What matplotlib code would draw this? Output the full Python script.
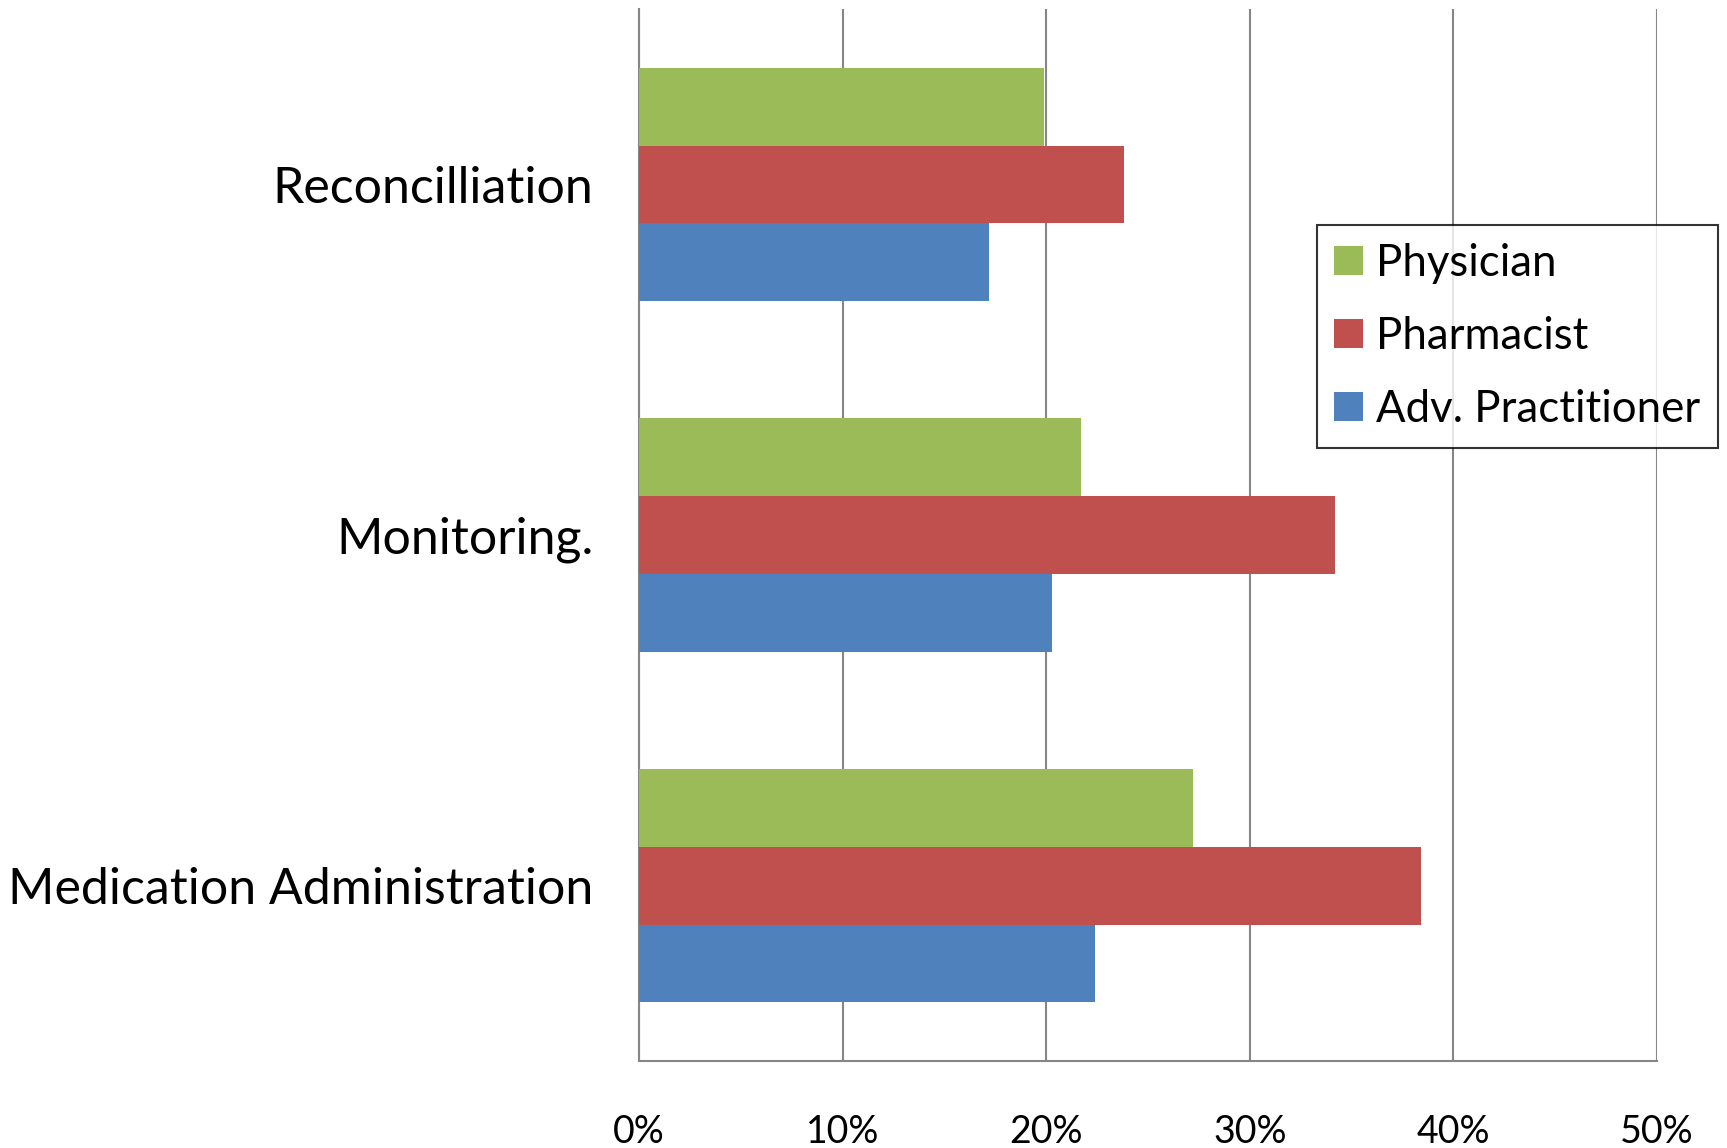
import numpy as np
import matplotlib.pyplot as plt

categories = ['Medication Administration', 'Monitoring.', 'Reconcilliation']
adv_practitioner = [22.4, 20.3, 17.2]
pharmacist = [38.4, 34.2, 23.8]
physician = [27.2, 21.7, 19.9]
x_ticks = [0, 10, 20, 30, 40, 50]
x_tick_labels = ['0%', '10%', '20%', '30%', '40%', '50%']

plt.rcParams['font.family'] = ['Lato', 'DejaVu Sans']

fig = plt.figure(figsize=(17.27, 11.48), dpi=100)
ax = fig.add_axes([0.370, 0.0758, 0.5895, 0.9162])

y = np.arange(len(categories))
h = 0.222
ax.barh(y - h, adv_practitioner, h, color='#4F81BD', label='Adv. Practitioner', zorder=3)
ax.barh(y, pharmacist, h, color='#C0504D', label='Pharmacist', zorder=3)
ax.barh(y + h, physician, h, color='#9BBB59', label='Physician', zorder=3)

ax.set_xlim(0, 50)
ax.set_ylim(-0.5, 2.5)
ax.set_xticks(x_ticks)
ax.set_xticklabels(x_tick_labels, fontsize=27)
ax.set_yticks(y)
ax.set_yticklabels(categories, fontsize=36)
ax.tick_params(axis='x', length=0, pad=38)
ax.tick_params(axis='y', length=0, pad=33)

ax.grid(axis='x', color='#868686', linewidth=1.5, zorder=0)
for s in ['top', 'right']:
    ax.spines[s].set_visible(False)
for s in ['left', 'bottom']:
    ax.spines[s].set_color('#868686')
    ax.spines[s].set_linewidth(1.5)

handles, labels = ax.get_legend_handles_labels()
leg = ax.legend(handles[::-1], labels[::-1], loc='upper right',
                bbox_to_anchor=(0.9945, 0.804), bbox_transform=fig.transFigure,
                fontsize=31.5, frameon=True, fancybox=False, edgecolor='black',
                handlelength=0.65, handleheight=0.65, handletextpad=0.3,
                labelspacing=0.74, borderpad=0.4, borderaxespad=0)
leg.get_frame().set_linewidth(1.5)

fig.savefig('out.png', dpi=100)
